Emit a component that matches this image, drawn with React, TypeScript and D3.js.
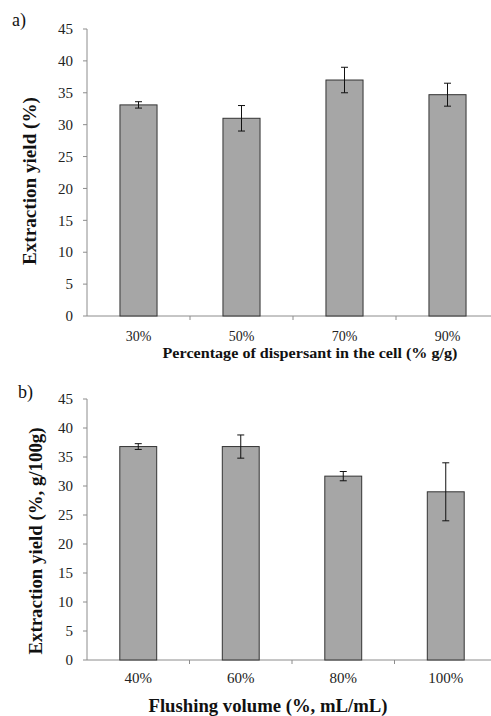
import React from "react";
import * as d3 from "d3";

// panel a) – dispersant percentage
const catsA = ["30%", "50%", "70%", "90%"];
const valsA = [33.1, 31.0, 37.0, 34.7];
const errsA = [0.5, 2.0, 2.0, 1.8];

// panel b) – flushing volume
const catsB = ["40%", "60%", "80%", "100%"];
const valsB = [36.8, 36.8, 31.7, 29.0];
const errsB = [0.5, 2.0, 0.8, 5.0];

const yTicks = [0, 5, 10, 15, 20, 25, 30, 35, 40, 45];

const FONT = "'Liberation Serif', 'Times New Roman', serif";

type PanelProps = {
  tag: string;
  cats: string[];
  vals: number[];
  errs: number[];
  top: number;
  bottom: number;
  xEnd: number;
  yTitle: string;
  yTitleX: number;
  yTitleY: number;
  yTitleSize: number;
  yTitleLen: number;
  xTitle: string;
  xTitleX: number;
  xTitleY: number;
  xTitleSize: number;
  xTitleLen: number;
  tickLabelY: number;
  tickSize: number;
  tagX: number;
  tagY: number;
};

const Panel = (p: PanelProps) => {
  const x0 = 87;
  const x = d3.scaleBand<string>().domain(p.cats).range([x0, p.xEnd]).paddingInner(0.64).paddingOuter(0.32);
  const y = d3.scaleLinear().domain([0, 45]).range([p.bottom, p.top]);
  const step = x.step();
  const bw = x.bandwidth();

  return (
    <g>
      <text x={p.tagX} y={p.tagY} fontSize={18} fontFamily={FONT} fill="#111">{p.tag}</text>

      {/* y axis */}
      <line x1={x0} x2={x0} y1={y(45)} y2={y(0)} stroke="#8c8c8c" />
      {yTicks.map(t => (
        <g key={t}>
          <line x1={x0 - 4} x2={x0} y1={y(t)} y2={y(t)} stroke="#8c8c8c" />
          <text x={x0 - 14} y={y(t)} dy="0.35em" textAnchor="end" fontSize={15} fontFamily={FONT} fill="#222">{t}</text>
        </g>
      ))}

      {/* x axis */}
      <line x1={x0} x2={491} y1={y(0)} y2={y(0)} stroke="#8c8c8c" />
      {p.cats.map((c, i) => (
        <line key={c} x1={x0 + step * (i + 1)} x2={x0 + step * (i + 1)} y1={y(0)} y2={y(0) + 4} stroke="#8c8c8c" />
      ))}

      {/* bars + error bars */}
      {p.cats.map((c, i) => {
        const cx = (x(c) as number) + bw / 2;
        const hi = y(p.vals[i] + p.errs[i]);
        const lo = y(p.vals[i] - p.errs[i]);
        return (
          <g key={c}>
            <rect x={x(c)} y={y(p.vals[i])} width={bw} height={y(0) - y(p.vals[i])} fill="#a6a6a6" stroke="#333" strokeWidth={1} />
            <line x1={cx} x2={cx} y1={hi} y2={lo} stroke="#111" />
            <line x1={cx - 3.5} x2={cx + 3.5} y1={hi} y2={hi} stroke="#111" />
            <line x1={cx - 3.5} x2={cx + 3.5} y1={lo} y2={lo} stroke="#111" />
            <text x={cx} y={p.tickLabelY} textAnchor="middle" fontSize={p.tickSize} fontFamily={FONT} fill="#222">{c}</text>
          </g>
        );
      })}

      {/* axis titles */}
      <text
        transform={`translate(${p.yTitleX},${p.yTitleY}) rotate(-90)`}
        textAnchor="middle"
        dy="0.35em"
        fontSize={p.yTitleSize}
        fontWeight="bold"
        fontFamily={FONT}
        fill="#111"
        textLength={p.yTitleLen}
        lengthAdjust="spacingAndGlyphs"
      >
        {p.yTitle}
      </text>
      <text
        x={p.xTitleX}
        y={p.xTitleY}
        textAnchor="middle"
        fontSize={p.xTitleSize}
        fontWeight="bold"
        fontFamily={FONT}
        fill="#111"
        textLength={p.xTitleLen}
        lengthAdjust="spacingAndGlyphs"
      >
        {p.xTitle}
      </text>
    </g>
  );
};

export default function App() {
  return (
    <svg width={491} height={716} style={{ position: "absolute", left: 0, top: 0, background: "#fff" }}>
      <rect width={491} height={716} fill="#fff" />
      <Panel
        tag="a)"
        cats={catsA}
        vals={valsA}
        errs={errsA}
        top={29}
        bottom={316}
        xEnd={499}
        yTitle="Extraction yield (%)"
        yTitleX={29}
        yTitleY={181}
        yTitleSize={19.5}
        yTitleLen={168}
        xTitle="Percentage of dispersant in the cell (% g/g)"
        xTitleX={310}
        xTitleY={358}
        xTitleSize={15}
        xTitleLen={295}
        tickLabelY={341}
        tickSize={14}
        tagX={12}
        tagY={26}
      />
      <Panel
        tag="b)"
        cats={catsB}
        vals={valsB}
        errs={errsB}
        top={399}
        bottom={660}
        xEnd={497}
        yTitle="Extraction yield (%, g/100g)"
        yTitleX={35}
        yTitleY={541}
        yTitleSize={19}
        yTitleLen={227}
        xTitle="Flushing volume (%, mL/mL)"
        xTitleX={268}
        xTitleY={712}
        xTitleSize={19.5}
        xTitleLen={239}
        tickLabelY={683}
        tickSize={15}
        tagX={18}
        tagY={398}
      />
    </svg>
  );
}
